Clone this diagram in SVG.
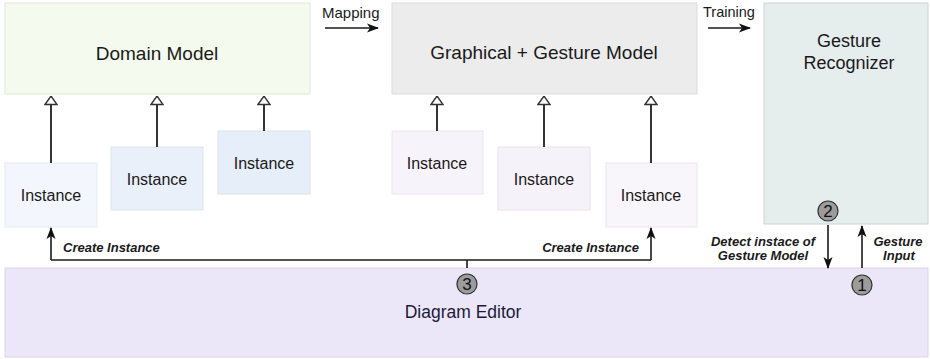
<svg xmlns="http://www.w3.org/2000/svg" width="930" height="359" viewBox="0 0 930 359">
<style>
text{font-family:"Liberation Sans",Arial,sans-serif;fill:#1a1a1a}
.model{font-size:19px;text-anchor:middle}
.inst{font-size:16px;text-anchor:middle}
.lbl{font-size:15px}
.bi{font-size:13px;font-weight:bold;font-style:italic}
.line{stroke:#1a1a1a;stroke-width:1.6;fill:none}
.gen{stroke:#333;stroke-width:2;fill:none;marker-end:url(#tri)}
.arr{stroke:#1a1a1a;stroke-width:1.6;fill:none;marker-end:url(#ah)}
.num{fill:#9c9c9c;stroke:#333;stroke-width:1.2}
.numt{font-size:17px;text-anchor:middle;fill:#111}
</style>
<defs>
<marker id="tri" viewBox="0 0 10 14" refX="9.5" refY="7" markerWidth="10" markerHeight="14" markerUnits="userSpaceOnUse" orient="auto">
<path d="M1,1 L9.5,7 L1,13 Z" fill="#fff" stroke="#333" stroke-width="1.4"/>
</marker>
<marker id="ah" viewBox="0 0 12 10" refX="11" refY="5" markerWidth="12" markerHeight="10" markerUnits="userSpaceOnUse" orient="auto">
<path d="M0,0.5 L12,5 L0,9.5 L3,5 Z" fill="#111"/>
</marker>
</defs>

<g id="domain-model">
<rect x="5" y="3" width="305" height="91" fill="#f4faee" stroke="#e1e8d9"/>
<text class="model" x="157" y="60">Domain Model</text>
</g>
<g id="graphical-gesture-model">
<rect x="392" y="3" width="305" height="91" fill="#ececec" stroke="#dcdcdc"/>
<text class="model" x="544" y="59">Graphical + Gesture Model</text>
</g>
<g id="gesture-recognizer">
<rect x="764" y="3" width="164" height="221" fill="#e6eded" stroke="#cdd2d2"/>
<text class="model" x="849" y="47" style="font-size:18px">Gesture</text>
<text class="model" x="849" y="69" style="font-size:18px">Recognizer</text>
<circle class="num" cx="828" cy="211" r="10"/>
<text class="numt" x="828" y="217">2</text>
</g>

<g id="instance-d1">
<rect x="5" y="163" width="92" height="64" fill="#f3f6fc" stroke="#e6eaf2"/>
<text class="inst" x="51" y="201">Instance</text>
</g>
<g id="instance-d2">
<rect x="111" y="147" width="92" height="63" fill="#e9f0fa" stroke="#dde4ee"/>
<text class="inst" x="157" y="185">Instance</text>
</g>
<g id="instance-d3">
<rect x="218" y="131" width="92" height="63" fill="#e6eef9" stroke="#dae2ee"/>
<text class="inst" x="264" y="169">Instance</text>
</g>
<g id="instance-g1">
<rect x="392" y="131" width="91" height="63" fill="#f7f3fb" stroke="#e9e4ef"/>
<text class="inst" x="437" y="169">Instance</text>
</g>
<g id="instance-g2">
<rect x="498" y="147" width="92" height="63" fill="#f6f2fa" stroke="#e8e3ee"/>
<text class="inst" x="544" y="185">Instance</text>
</g>
<g id="instance-g3">
<rect x="606" y="163" width="91" height="64" fill="#f8f5fb" stroke="#eae6f0"/>
<text class="inst" x="651" y="201">Instance</text>
</g>

<g id="diagram-editor">
<rect x="5" y="268" width="923" height="89" fill="#ebe7f8" stroke="#d9d5e6"/>
<text x="463" y="318" style="font-size:17.5px;text-anchor:middle;fill:#1c1a38">Diagram Editor</text>
<circle class="num" cx="467" cy="284" r="10"/>
<text class="numt" x="467" y="290">3</text>
<circle class="num" cx="862" cy="285" r="10"/>
<text class="numt" x="862" y="291">1</text>
</g>

<g id="connectors">
<path class="gen" d="M51,163 V96"/>
<path class="gen" d="M157,147 V96"/>
<path class="gen" d="M264,131 V96"/>
<path class="gen" d="M437,131 V96"/>
<path class="gen" d="M544,147 V96"/>
<path class="gen" d="M651,163 V96"/>
<path class="arr" d="M325,28 H378"/>
<text class="lbl" x="322" y="18">Mapping</text>
<path class="arr" d="M708,28 H750"/>
<text class="lbl" x="703" y="17" style="font-size:14.5px">Training</text>
<path class="line" d="M467,268 V260"/>
<path class="arr" d="M51,260 V228"/>
<path class="line" d="M51,260 H651"/>
<path class="arr" d="M651,260 V228"/>
<text class="bi" x="63" y="252">Create Instance</text>
<text class="bi" x="639" y="252" text-anchor="end">Create Instance</text>
<path class="arr" d="M828,225 V268"/>
<path class="arr" d="M862,268 V226"/>
<text class="bi" x="763" y="246" text-anchor="middle">Detect instace of</text>
<text class="bi" x="763" y="260" text-anchor="middle">Gesture Model</text>
<text class="bi" x="898" y="246" text-anchor="middle">Gesture</text>
<text class="bi" x="899" y="260" text-anchor="middle">Input</text>
</g>
</svg>
